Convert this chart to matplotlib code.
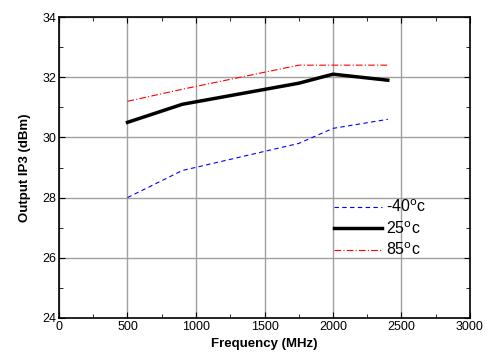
import matplotlib
matplotlib.use("Agg")
import matplotlib.pyplot as plt
from matplotlib.ticker import MultipleLocator

plt.rcParams['font.family'] = ['Liberation Sans', 'DejaVu Sans']

freq = [500, 900, 1750, 2000, 2400]
oip3_m40 = [28.0, 28.9, 29.8, 30.3, 30.6]
oip3_25 = [30.5, 31.1, 31.8, 32.1, 31.9]
oip3_85 = [31.2, 31.6, 32.4, 32.4, 32.4]

fig = plt.figure(figsize=(4.91, 3.64), dpi=100)
ax = fig.add_axes([59/491, 1 - 318/364, 411/491, 301/364])

ax.plot(freq, oip3_m40, color="blue", linestyle=(0, (4, 3)), linewidth=0.8, label="-40$^{\\rm o}$c")
ax.plot(freq, oip3_25, color="black", linestyle="-", linewidth=2.5, label="25$^{\\rm o}$c")
ax.plot(freq, oip3_85, color="red", linestyle=(0, (6, 2, 1, 2)), linewidth=0.8, label="85$^{\\rm o}$c")

ax.set_xlim(0, 3000)
ax.set_ylim(24, 34)
ax.xaxis.set_major_locator(MultipleLocator(500))
ax.xaxis.set_minor_locator(MultipleLocator(250))
ax.yaxis.set_major_locator(MultipleLocator(2))
ax.yaxis.set_minor_locator(MultipleLocator(1))
ax.tick_params(which="both", direction="in", top=True, right=True, labelsize=9, pad=2)
ax.tick_params(which="major", length=4)
ax.tick_params(which="minor", length=3)
ax.grid(True, which="major", color="#a0a0a0", linewidth=1)
ax.set_axisbelow(True)
for s in ax.spines.values():
    s.set_linewidth(1.2)

ax.set_xlabel("Frequency (MHz)", fontsize=9.5, fontweight="bold", labelpad=4)
ax.set_ylabel("Output IP3 (dBm)", fontsize=9.5, fontweight="bold", labelpad=8)

leg = ax.legend(loc="upper left", bbox_to_anchor=(0.653, 0.417), frameon=False,
                fontsize=11.5, handlelength=3.0, handletextpad=0.3, labelspacing=0.3,
                borderaxespad=0)

fig.savefig("out.png", dpi=100)
